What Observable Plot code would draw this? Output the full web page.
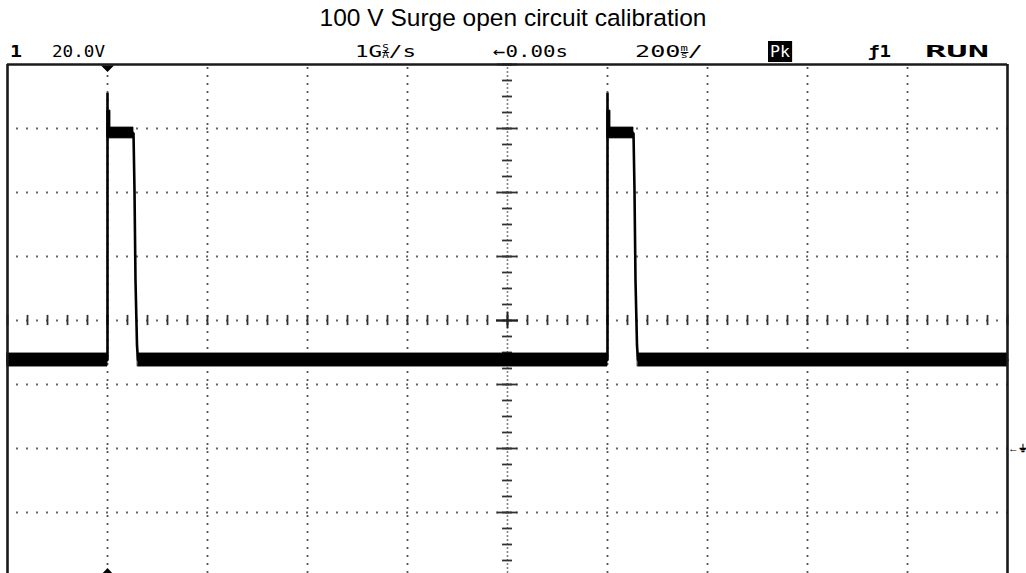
<!DOCTYPE html>
<html><head><meta charset="utf-8">
<script src="https://cdn.jsdelivr.net/npm/d3@7"></script>
<script src="https://cdn.jsdelivr.net/npm/@observablehq/plot@0.6"></script>
<style>
html,body{margin:0;padding:0;background:#fff;overflow:hidden;}
#head{position:relative;width:1026px;height:62px;}
#title{position:absolute;left:513px;top:6px;transform:translateX(-50%);font:24.5px "Liberation Sans",Arial,sans-serif;line-height:1;white-space:nowrap;color:#000;}
.lab{position:absolute;top:44px;font:16.5px "DejaVu Sans Mono",monospace;line-height:1;white-space:nowrap;transform-origin:0 50%;color:#000;}
.b{font-weight:bold;}
.frac{display:inline-block;vertical-align:-1px;font-size:8px;line-height:6.5px;text-align:center;}
.frac span{display:block;}
.frac span:first-child{border-bottom:1px solid #000;}
.inv{background:#000;color:#fff;padding:1px 2px;}
</style></head>
<body>
<div id="head"><div id="title"></div></div>
<div id="chart"></div>
<script>
// ---- text ----
const titleText = "100 V Surge open circuit calibration";
const headerLabels = [
  {html: "1", bold: true},
  {html: "20.0V"},
  {html: '1G<span class="frac"><span>S</span><span>A</span></span>/s'},
  {html: "\u21900.00s"},
  {html: '200<span class="frac"><span>m</span><span>s</span></span>/'},
  {html: '<span class="inv">Pk</span>'},
  {html: "\u01921", bold: true},
  {html: "RUN", bold: true}
];
// layout of header labels (left, width in px)
const headerLayout = [[10, 12], [52, 53], [355, 61], [493, 75], [635, 68], [768, 24], [868, 23], [925, 64]];

// ---- scope settings: 200 ms/div, 20 V/div ----
const timeDomain = [-1, 1];
const voltDomain = [-40, 120];
const gridT = [-0.8, -0.6, -0.4, -0.2, 0.2, 0.4, 0.6, 0.8];
const gridV = [100, 80, 60, 20, 0, -20];
const centerT = [0];
const centerV = [40];
const majorV = [120, 100, 80, 60, 40, 20, 0, -20, -40];
const triggerT = [-0.8];
const groundV = [0];
const groundLabel = ["\u2190\u23DA"];

// ---- trace (peak detect): centre line ----
const traceT = [-1.0, -0.8, -0.8, -0.8, -0.748, -0.746, -0.744, -0.741, -0.739,
                 0.2, 0.2, 0.2, 0.252, 0.254, 0.256, 0.259, 0.261, 1.0];
const traceV = [27.6, 27.6, 111.2, 98.6, 98.6, 80.6, 52.5, 32.2, 27.6,
                27.6, 111.2, 98.6, 98.6, 80.6, 52.5, 32.2, 27.6, 27.6];
// ---- trace envelope bands (min/max) ----
const bandSeg = ["b1","b1","p1","p1","s1","s1","b2","b2","p2","p2","s2","s2","b3","b3"];
const bandT   = [-1, -0.8, -0.8, -0.748, -0.8, -0.794, -0.739, 0.2, 0.2, 0.252, 0.2, 0.206, 0.261, 1];
const bandLo  = [25.6, 25.6, 96.9, 96.9, 100.3, 100.3, 25.6, 25.6, 96.9, 96.9, 100.3, 100.3, 25.6, 25.6];
const bandHi  = [29.7, 29.7, 100.3, 100.3, 105.6, 105.6, 29.7, 29.7, 100.3, 100.3, 105.6, 105.6, 29.7, 29.7];

// ---- header ----
document.getElementById("title").textContent = titleText;
const head = document.getElementById("head");
headerLabels.forEach((l, i) => {
  const s = document.createElement("span");
  s.className = "lab" + (l.bold ? " b" : "");
  s.innerHTML = l.html;
  s.style.left = headerLayout[i][0] + "px";
  head.appendChild(s);
  const w = s.getBoundingClientRect().width;
  s.style.transform = `scaleX(${headerLayout[i][1] / w})`;
});

// graticule minor ticks
const minorTicksT = d3.range(0, 51).map(k => -1 + k * 0.04);
const minorTicksV = d3.range(0, 33).map(k => 120 - k * 5);
const idx = d3.range(traceT.length);
const bidx = d3.range(bandT.length);

const flatTri = {draw(ctx) { ctx.moveTo(-6.5, -3); ctx.lineTo(6.5, -3); ctx.lineTo(0, 3.5); ctx.closePath(); }};
const flatTriUp = {draw(ctx) { ctx.moveTo(-6.5, 3.5); ctx.lineTo(6.5, 3.5); ctx.lineTo(0, -3.5); ctx.closePath(); }};

const dotColor = "#555";
const plot = Plot.plot({
  width: 1026, height: 511,
  marginLeft: 7, marginRight: 19, marginTop: 2, marginBottom: 0,
  x: {domain: timeDomain, range: [7, 1007], axis: null},
  y: {domain: voltDomain, range: [514, 2], axis: null},
  style: {overflow: "visible"},
  marks: [
    // dotted grid
    Plot.ruleY(gridV, {x1: -1, x2: 1, stroke: dotColor, strokeWidth: 1.8, strokeDasharray: "1.8,8.2", strokeDashoffset: 0.9}),
    Plot.ruleX(gridT, {y1: 120, y2: -40, stroke: dotColor, strokeWidth: 1.8, strokeDasharray: "1.8,6.2", strokeDashoffset: -3.1}),
    // centre horizontal axis
    Plot.ruleY(centerV, {x1: -1, x2: 1, stroke: dotColor, strokeWidth: 1.8, strokeDasharray: "1.8,8.2", strokeDashoffset: 0.9}),
    Plot.ruleX(minorTicksT, {x: d => d, y1: 38.4, y2: 41.6, stroke: "#333", strokeWidth: 1.8}),
    // centre vertical axis
    Plot.ruleX(centerT, {y1: 120, y2: -40, stroke: dotColor, strokeWidth: 1.6, strokeDasharray: "1.6,2.4", strokeDashoffset: 0.8}),
    Plot.ruleY(minorTicksV, {y: d => d, x1: -0.01, x2: 0.01, stroke: "#333", strokeWidth: 1.8}),
    Plot.ruleY(majorV, {y: d => d, x1: -0.02, x2: 0.02, stroke: "#333", strokeWidth: 1.8}),
    Plot.ruleY(centerV, {x1: -0.022, x2: 0.022, stroke: "#222", strokeWidth: 2}),
    Plot.ruleX(centerT, {y1: 37.5, y2: 42.5, stroke: "#222", strokeWidth: 2}),
    // trace
    Plot.areaY(bidx, {x: i => bandT[i], y1: i => bandLo[i], y2: i => bandHi[i], z: i => bandSeg[i], fill: "#000", stroke: "#000", strokeWidth: 0.8}),
    Plot.line(idx, {x: i => traceT[i], y: i => traceV[i], stroke: "#000", strokeWidth: 2.6, strokeLinejoin: "miter"}),
    // screen frame
    Plot.ruleX(timeDomain, {y1: 120, y2: -40, stroke: "#1a1a1a", strokeWidth: 2.6}),
    Plot.ruleY([120], {x1: -1, x2: 1, stroke: "#1a1a1a", strokeWidth: 2.6}),
    // trigger / ground markers
    Plot.dot(triggerT, {x: d => d, y: 120, symbol: flatTri, r: 4, fill: "#000", stroke: "none", dy: 4}),
    Plot.dot(triggerT, {x: d => d, y: -40, symbol: flatTriUp, r: 4, fill: "#000", stroke: "none", dy: -5}),
    Plot.text(groundV, {x: 1, y: d => d, text: (d, i) => groundLabel[i], dx: 0.5, textAnchor: "start", fontSize: 10.5, fontWeight: "bold", fill: "#000"})
  ]
});
document.getElementById("chart").appendChild(plot);
</script>
</body></html>
